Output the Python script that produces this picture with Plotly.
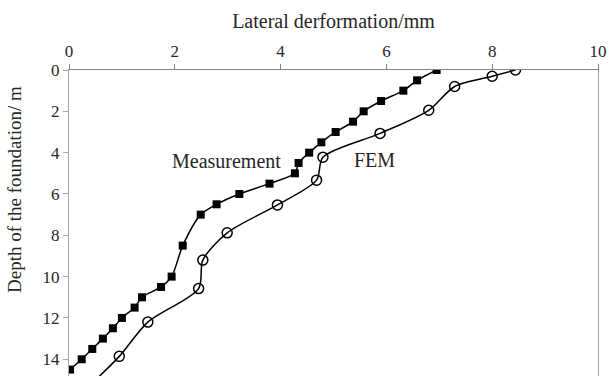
import plotly.graph_objects as go

meas_depth = [0, 0.5, 1.0, 1.5, 2.0, 2.5, 3.0, 3.5, 4.0, 4.5, 5.0, 5.5, 6.0, 6.5, 7.0,
              8.5, 10.0, 10.5, 11.0, 11.5, 12.0, 12.5, 13.0, 13.5, 14.0, 14.5]
meas_x = [6.95, 6.58, 6.32, 5.90, 5.57, 5.37, 5.04, 4.77, 4.54, 4.34, 4.27, 3.79, 3.22, 2.79, 2.49,
          2.15, 1.94, 1.74, 1.38, 1.24, 1.00, 0.83, 0.64, 0.44, 0.24, 0.02]

fem_depth = [0, 0.3, 0.8, 1.95, 3.07, 4.22, 5.33, 6.53, 7.88, 9.2, 10.58, 12.2, 13.86, 15.5]
fem_x = [8.44, 8.00, 7.29, 6.80, 5.88, 4.80, 4.68, 3.94, 2.99, 2.53, 2.45, 1.49, 0.95, 0.30]

x_ticks = [0, 2, 4, 6, 8, 10]
y_ticks = [0, 2, 4, 6, 8, 10, 12, 14]

FONT = "Liberation Serif, Times New Roman, serif"
TXT = "#262626"

fig = go.Figure()
fig.add_trace(go.Scatter(
    x=meas_x, y=meas_depth, mode="lines+markers", name="Measurement",
    line=dict(color="black", width=1.5, shape="spline", smoothing=0.8),
    marker=dict(symbol="square", size=8, color="black"),
    showlegend=False))
fig.add_trace(go.Scatter(
    x=fem_x, y=fem_depth, mode="lines+markers", name="FEM",
    line=dict(color="black", width=1.5, shape="spline", smoothing=0.8),
    marker=dict(symbol="circle-open", size=10, color="black", line=dict(width=1.5)),
    showlegend=False))

fig.add_annotation(x=2.98, y=4.39, text="Measurement", showarrow=False,
                   font=dict(family=FONT, size=20, color=TXT))
fig.add_annotation(x=5.78, y=4.34, text="FEM", showarrow=False,
                   font=dict(family=FONT, size=20, color=TXT))
fig.add_annotation(xref="paper", yref="paper", x=-0.102, y=0.608,
                   text="Depth of the foundation/ m", textangle=-90, showarrow=False,
                   xanchor="center", yanchor="middle",
                   font=dict(family=FONT, size=19, color=TXT))

fig.update_layout(
    width=609, height=376,
    margin=dict(l=69, r=11, t=70, b=0),
    paper_bgcolor="white", plot_bgcolor="white",
    font=dict(family=FONT, color=TXT),
)
fig.update_xaxes(
    side="top", range=[0, 10], tickvals=x_ticks, showgrid=False, zeroline=False,
    showline=True, linecolor="#868686", linewidth=1,
    ticks="outside", ticklen=5, tickcolor="#868686",
    tickfont=dict(family=FONT, size=17, color=TXT),
    title=dict(text="Lateral derformation/mm", font=dict(family=FONT, size=20, color=TXT), standoff=8),
)
fig.update_yaxes(
    range=[14.81, 0], tickvals=y_ticks, showgrid=False, zeroline=False,
    showline=True, mirror=True, linecolor="#a6a6a6", linewidth=1,
    ticks="outside", ticklen=5, tickcolor="#a6a6a6",
    tickfont=dict(family=FONT, size=17, color=TXT),
)

fig.write_html("out.html")
